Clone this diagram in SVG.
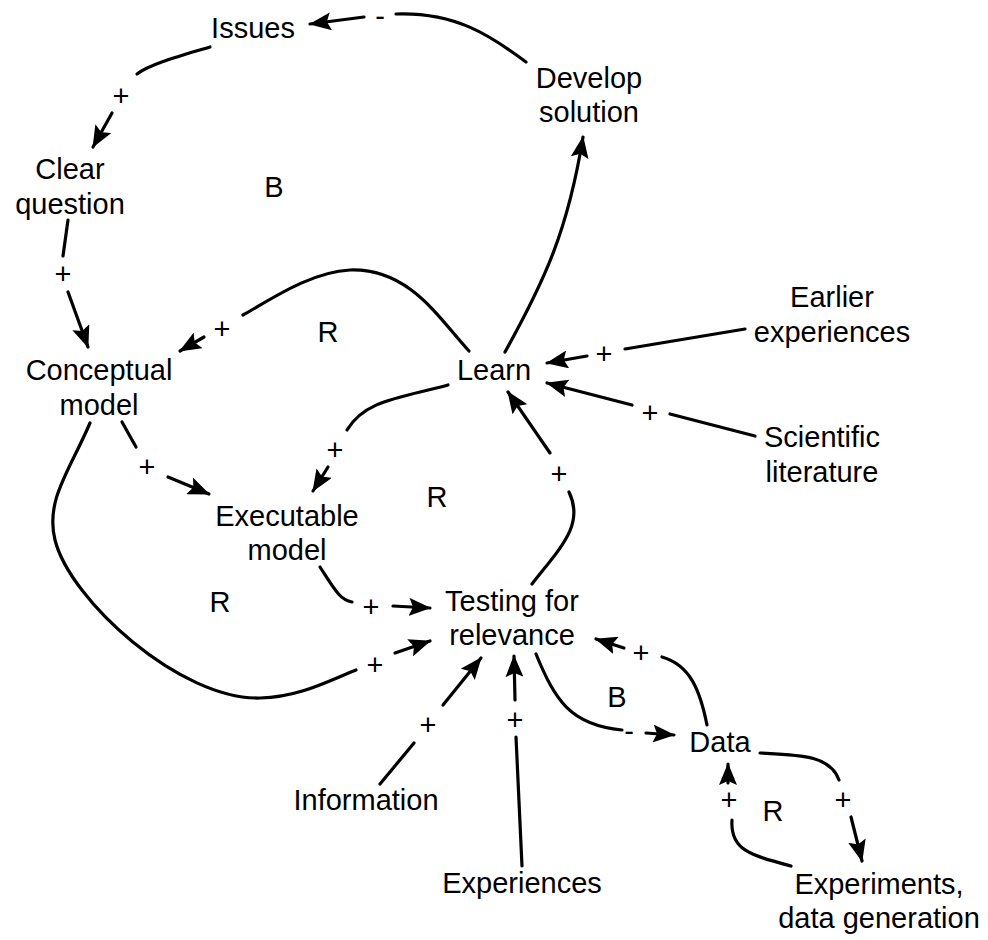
<svg xmlns="http://www.w3.org/2000/svg" width="988" height="940" viewBox="0 0 988 940">
<style>
text{font-family:"Liberation Sans",Arial,Helvetica,sans-serif;font-size:29px;fill:#000;text-anchor:middle}
.c{fill:none;stroke:#000;stroke-width:3.2;stroke-linecap:round}
.a{marker-end:url(#ah)}
</style>
<defs>
<marker id="ah" viewBox="0 0 22 18" refX="21" refY="9" markerWidth="22" markerHeight="18" markerUnits="userSpaceOnUse" orient="auto">
<path d="M0,0 L22,9 L0,18 L4,9 z" fill="#000"/>
</marker>
</defs>
<rect width="988" height="940" fill="#fff"/>
<g id="connectors">
<path class="c" d="M526,62 C490,35 455,12 396,14"/>
<path class="c a" d="M364,17 L310,24"/>
<text x="380" y="26">-</text>
<path class="c" d="M210,47 C180,56 150,64 137,74"/>
<text x="121" y="106">+</text>
<path class="c a" d="M112,113 L93,147"/>
<path class="c" d="M68,220 L63,256"/>
<text x="63" y="284">+</text>
<path class="c a" d="M68,292 L88,347"/>
<path class="c" d="M469,351 C440,320 410,268 350,270 C310,272 270,300 243,315"/>
<text x="222" y="339">+</text>
<path class="c a" d="M204,337 L180,351"/>
<path class="c a" d="M505,352 C545,280 568,230 583,137"/>
<path class="c" d="M745,329 L625,349"/>
<text x="604" y="364">+</text>
<path class="c a" d="M587,356 L547,363"/>
<path class="c" d="M755,436 L670,414"/>
<text x="650" y="423">+</text>
<path class="c a" d="M632,405 L547,383"/>
<path class="c" d="M532,584 C560,548 585,525 569,492"/>
<text x="559" y="484">+</text>
<path class="c a" d="M550,453 L508,392"/>
<path class="c" d="M448,385 C400,398 365,400 347,430"/>
<text x="335" y="460">+</text>
<path class="c a" d="M328,467 L313,491"/>
<path class="c" d="M122,422 L136,447"/>
<text x="147" y="477">+</text>
<path class="c a" d="M168,477 L209,494"/>
<path class="c" d="M90,423 C70,470 45,500 55,540 C70,600 180,700 260,698 C300,697 330,680 356,670"/>
<text x="375" y="675">+</text>
<path class="c a" d="M395,653 L430,641"/>
<path class="c" d="M320,567 C335,590 340,600 352,602"/>
<text x="371" y="617">+</text>
<path class="c a" d="M393,606 L430,608"/>
<path class="c" d="M380,784 L414,743"/>
<text x="428" y="735">+</text>
<path class="c a" d="M443,705 L481,658"/>
<path class="c" d="M522,866 L516,737"/>
<text x="515" y="730">+</text>
<path class="c a" d="M515,700 L514,656"/>
<path class="c" d="M536,654 C555,700 570,725 622,730"/>
<text x="629" y="741">-</text>
<path class="c a" d="M646,733 L674,735"/>
<path class="c" d="M707,725 C700,690 690,665 662,657"/>
<text x="641" y="663">+</text>
<path class="c a" d="M624,648 L596,639"/>
<path class="c" d="M760,753 C800,755 830,755 839,780"/>
<text x="843" y="810">+</text>
<path class="c a" d="M851,817 L862,861"/>
<path class="c" d="M791,866 C750,855 730,850 732,820"/>
<text x="729" y="810">+</text>
<path class="c a" d="M728,783 L728,764"/>
</g>
<g id="n-issues"><text x="253" y="38">Issues</text></g>
<g id="n-develop"><text x="589" y="88">Develop</text><text x="589" y="122">solution</text></g>
<g id="n-clear"><text x="70" y="179">Clear</text><text x="70" y="214">question</text></g>
<g id="n-conceptual"><text x="99" y="380">Conceptual</text><text x="99" y="415">model</text></g>
<g id="n-learn"><text x="494" y="380">Learn</text></g>
<g id="n-earlier"><text x="832" y="307">Earlier</text><text x="832" y="342">experiences</text></g>
<g id="n-scientific"><text x="822" y="447">Scientific</text><text x="822" y="482">literature</text></g>
<g id="n-executable"><text x="287" y="526">Executable</text><text x="287" y="560">model</text></g>
<g id="n-testing"><text x="512" y="611">Testing for</text><text x="512" y="645">relevance</text></g>
<g id="n-data"><text x="720" y="752">Data</text></g>
<g id="n-information"><text x="366" y="810">Information</text></g>
<g id="n-experiences"><text x="522" y="893">Experiences</text></g>
<g id="n-experiments"><text x="879" y="894">Experiments,</text><text x="879" y="928">data generation</text></g>
<g id="loops">
<text x="274" y="197">B</text>
<text x="328" y="342">R</text>
<text x="437" y="507">R</text>
<text x="220" y="612">R</text>
<text x="617" y="707">B</text>
<text x="773" y="821">R</text>
</g>
</svg>
